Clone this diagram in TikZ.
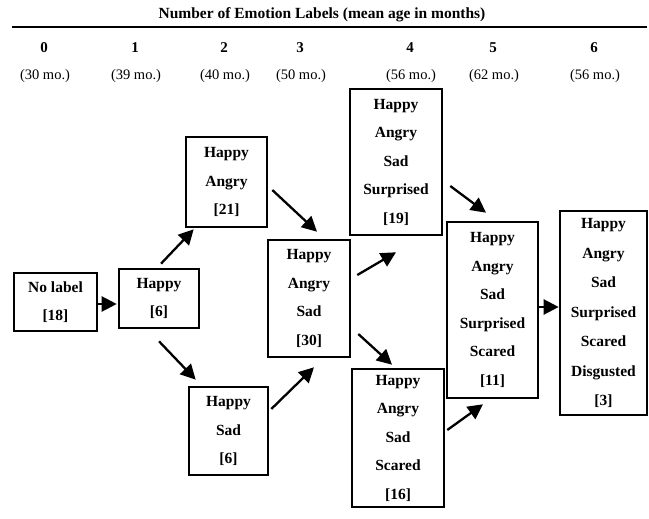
\documentclass[tikz,border=0pt]{standalone}
\usepackage{fontspec}
\setmainfont{Liberation Serif}
\usetikzlibrary{arrows.meta,calc}
\begin{document}
\begin{tikzpicture}[x=1pt,y=-1pt,
 box/.style={draw,line width=2.6pt,align=center,inner sep=0pt,font=\fontsize{15.5}{28.5}\selectfont\bfseries},
 arr/.style={line width=2.3pt,-{Triangle[length=15pt,width=15pt]}},
 hdr/.style={font=\fontsize{15}{18}\selectfont\bfseries},
 ttl/.style={font=\fontsize{15.5}{18}\selectfont\bfseries},
 age/.style={font=\fontsize{14.5}{17}\selectfont}]
\useasboundingbox[fill=white] (0,0) rectangle (649,519);

% header
\node[ttl] (title) at (322,15) {Number of Emotion Labels (mean age in months)};
\draw[line width=1.8pt] (12,27) -- (647,27);
\foreach \i/\x/\a in {0/44/30,1/135/39,2/224/40,3/300/50,4/410/56,5/493/62,6/594/56}{
  \node[hdr] (h\i) at (\x,48) {\i};
  \node[age] (a\i) at (\x+1,76) {(\a{} mo.)};
}

% boxes
\node[box,minimum width=83pt,minimum height=58pt] (n0) at (55.5,302) {No label\\{[18]}};
\node[box,minimum width=80pt,minimum height=59pt] (n1) at (159,298.5) {Happy\\{[6]}};
\node[box,minimum width=81pt,minimum height=90pt] (n2a) at (226.5,182) {Happy\\Angry\\{[21]}};
\node[box,minimum width=79pt,minimum height=88pt] (n2b) at (228.5,431) {Happy\\Sad\\{[6]}};
\node[box,minimum width=82pt,minimum height=117pt] (n3) at (309,298.5) {Happy\\Angry\\Sad\\{[30]}};
\node[box,minimum width=92pt,minimum height=146pt] (n4a) at (396,162) {Happy\\Angry\\Sad\\Surprised\\{[19]}};
\node[box,minimum width=92pt,minimum height=138pt] (n4b) at (398,438) {Happy\\Angry\\Sad\\Scared\\{[16]}};
\node[box,minimum width=91pt,minimum height=176pt] (n5) at (492.5,310) {Happy\\Angry\\Sad\\Surprised\\Scared\\{[11]}};
\node[box,minimum width=87pt,minimum height=204pt,font=\fontsize{15.5}{29.5}\selectfont\bfseries] (n6) at (603.5,313) {Happy\\Angry\\Sad\\Surprised\\Scared\\Disgusted\\{[3]}};

% arrows
\draw[arr] ($(n0.east)+(0,2)$) -- ($(n0.east -| n1.west)+(-1,2)$);
\draw[arr] ($(n1.north)+(2,-4)$) -- ($(n2a.south west)+(9,1)$);
\draw[arr] ($(n1.south)+(0,12)$) -- ($(n2b.north west)+(8,-6)$);
\draw[arr] ($(n2a.east)+(4,8)$) -- ($(n3.north)+(8,-7)$);
\draw[arr] ($(n2b.east)+(2,-22)$) -- ($(n3.south)+(5,9)$);
\draw[arr] ($(n3.east)+(6,-23.5)$) -- ($(n4a.south)+(0,16)$);
\draw[arr] ($(n3.east)+(7,35.5)$) -- ($(n4b.north)+(-6,-3)$);
\draw[arr] ($(n4a.east)+(7,24)$) -- ($(n5.north)+(-6.5,-8)$);
\draw[arr] ($(n4b.east)+(2,-8)$) -- ($(n5.south)+(-9.5,5)$);
\draw[arr] ($(n5.east)+(0,-3)$) -- ($(n5.east -| n6.west)+(0,-3)$);
\end{tikzpicture}
\end{document}
